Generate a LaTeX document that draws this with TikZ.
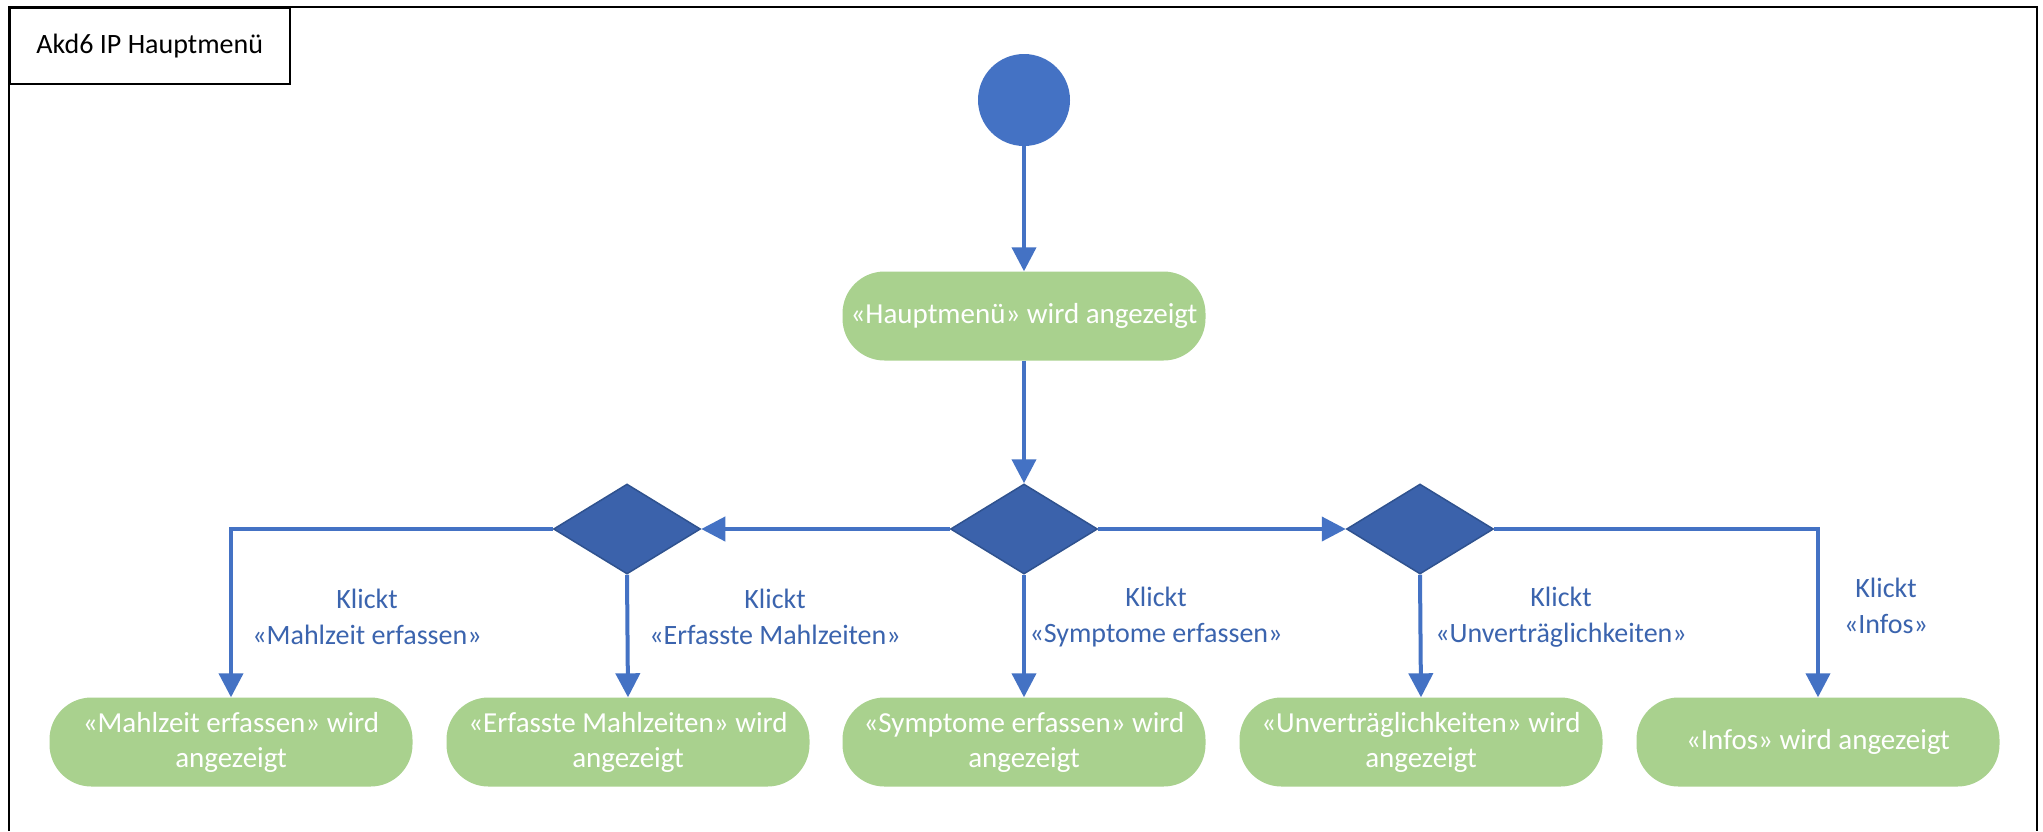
\documentclass[tikz,border=0pt]{standalone}
\usepackage{fontspec}
\setmainfont{Carlito}
\usetikzlibrary{arrows.meta,shapes.geometric}
\definecolor{flowblue}{HTML}{4472C4}
\definecolor{decfill}{HTML}{3B62AB}
\definecolor{decline}{HTML}{2F528F}
\definecolor{actgreen}{HTML}{A9D18E}
\definecolor{labelblue}{HTML}{3B64AE}

\begin{document}
\begin{tikzpicture}[x=1pt,y=-1pt,
  action/.style={fill=actgreen, rounded corners=42pt, minimum width=363pt,
    minimum height=89pt, text=white, align=center, inner sep=0pt,
    font=\fontsize{29}{35}\selectfont},
  decision/.style={diamond, fill=decfill, draw=decline, line width=1.5pt,
    minimum width=147pt, minimum height=90pt, inner sep=0pt},
  flow/.style={draw=flowblue, line width=4pt,
    -{Triangle[length=24pt,width=24pt]}},
  guard/.style={text=labelblue, align=center, font=\fontsize{28}{36}\selectfont}]

\useasboundingbox (0,0) rectangle (2043,831);
\fill[white] (0,0) rectangle (2043,831);

% frame and title
\draw[line width=2pt] (9,831) -- (9,7) -- (2037,7) -- (2037,831);
\node[draw, line width=1.5pt, minimum width=280pt, minimum height=76pt,
  anchor=north west, inner sep=0pt, font=\fontsize{28}{34}\selectfont]
  (title) at (9,7) {Akd6 IP Hauptmenü};

% nodes
\node[circle, fill=flowblue, minimum size=92pt, inner sep=0pt] (start) at (1024,100) {};
\node[action] (hm) at (1024,316) {«Hauptmenü» wird angezeigt};

\node[decision] (d1) at (627,529) {};
\node[decision] (d2) at (1024,529) {};
\node[decision] (d3) at (1420,529) {};

\node[action] (a1) at (231,742) {«Mahlzeit erfassen» wird\\angezeigt};
\node[action] (a2) at (628,742) {«Erfasste Mahlzeiten» wird\\angezeigt};
\node[action] (a3) at (1024,742) {«Symptome erfassen» wird\\angezeigt};
\node[action] (a4) at (1421,742) {«Unverträglichkeiten» wird\\angezeigt};
\node[action] (a5) at (1818,742) {«Infos» wird angezeigt};

% connectors
\draw[flow] (start) -- (hm);
\draw[flow] (hm) -- (d2.north);
\draw[flow] (d2.west) -- (d1.east);
\draw[flow] (d2.east) -- (d3.west);
\draw[flow] (d1.west) -| (a1.north);
\draw[flow] (d1.south) -- (a2.north);
\draw[flow] (d2.south) -- (a3.north);
\draw[flow] (d3.south) -- (a4.north);
\draw[flow] (d3.east) -| (a5.north);

% guard labels
\node[guard] (g1) at (367,617) {Klickt\\«Mahlzeit erfassen»};
\node[guard] (g2) at (775,617) {Klickt\\«Erfasste Mahlzeiten»};
\node[guard] (g3) at (1156,617) {Klickt\\«Symptome erfassen»};
\node[guard] (g4) at (1561,617) {Klickt\\«Unverträglichkeiten»};
\node[guard] (g5) at (1886,606) {Klickt\\«Infos»};

\end{tikzpicture}
\end{document}
